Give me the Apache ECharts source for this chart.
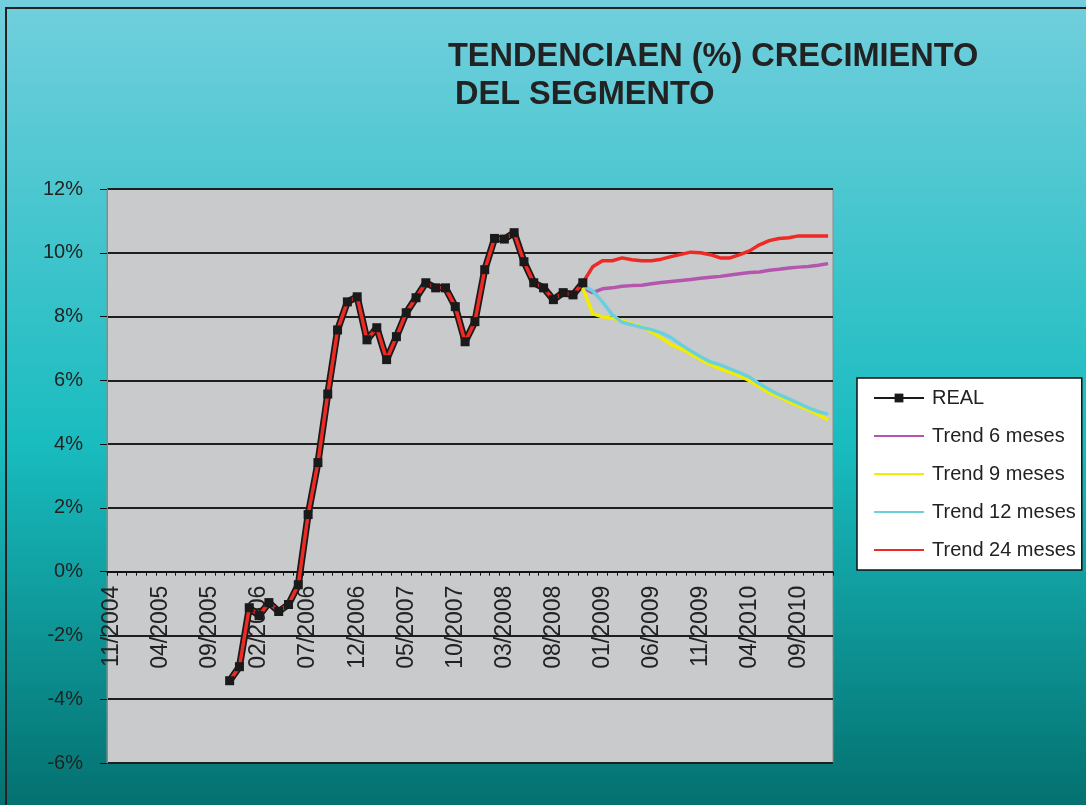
<!DOCTYPE html>
<html>
<head>
    <meta charset="utf-8">
    <title>Tendencia crecimiento del segmento</title>
    <script src="https://cdn.jsdelivr.net/npm/echarts@6/dist/echarts.min.js"></script>
    <style>
        html, body { margin: 0; padding: 0; }
        #main { width: 1086px; height: 805px; }
    </style>
</head>
<body>
<div id="main"></div>
<script>
    // meses: 11/2004 .. 12/2010
    var firstYear = 2004, firstMonth = 11, monthCount = 74;
    var months = [];
    for (var k = 0; k < monthCount; k++) {
        var m = (firstMonth - 1 + k) % 12 + 1;
        var y = firstYear + Math.floor((firstMonth - 1 + k) / 12);
        months.push((m < 10 ? '0' : '') + m + '/' + y);
    }

    // REAL, desde 11/2005 (indice 12)
    var realStart = 12;
    var realValues = [-3.42, -2.98, -1.13, -1.38, -0.97, -1.25, -1.03, -0.41, 1.79, 3.42,
        5.57, 7.58, 8.46, 8.62, 7.27, 7.65, 6.65, 7.37, 8.12, 8.59,
        9.06, 8.9, 8.9, 8.31, 7.21, 7.84, 9.47, 10.45, 10.43, 10.63,
        9.72, 9.06, 8.9, 8.53, 8.75, 8.68, 9.06];

    // tendencias, desde 11/2008 (indice 48)
    var trendStart = 48;
    var trend6 = [8.9, 8.75, 8.87, 8.9, 8.95, 8.97, 8.98, 9.03, 9.07, 9.1, 9.13, 9.16, 9.2,
        9.23, 9.26, 9.3, 9.34, 9.38, 9.4, 9.45, 9.48, 9.52, 9.55, 9.57, 9.61, 9.66];
    var trend9 = [8.9, 8.09, 7.99, 7.95, 7.87, 7.77, 7.68, 7.52, 7.33, 7.12, 6.99, 6.83, 6.65,
        6.49, 6.36, 6.25, 6.14, 5.99, 5.8, 5.61, 5.49, 5.33, 5.2, 5.08, 4.92, 4.76];
    var trend12 = [8.97, 8.81, 8.46, 8.06, 7.82, 7.74, 7.66, 7.59, 7.49, 7.34, 7.12, 6.93, 6.74,
        6.58, 6.49, 6.36, 6.24, 6.1, 5.89, 5.71, 5.55, 5.42, 5.28, 5.14, 5.02, 4.94];
    // trend 24 incluye el historico REAL y sigue desde 12/2008
    var trend24 = [9.56, 9.75, 9.75, 9.84, 9.78, 9.75, 9.75, 9.8, 9.88, 9.95, 10.02, 10.0,
        9.94, 9.84, 9.84, 9.94, 10.06, 10.25, 10.38, 10.45, 10.47, 10.53, 10.53, 10.53, 10.53];

    var yMin = -6, yMax = 12;

    function pad(start, values) {
        var out = [];
        for (var i = 0; i < monthCount; i++) {
            var j = i - start;
            out.push(j >= 0 && j < values.length ? values[j] : null);
        }
        return out;
    }

    var font = "'Liberation Sans', Arial, sans-serif";
    var gridTop = 189, gridBottom = 42, chartH = 805;
    // el eje X cruza en 0%: se sube con offset
    var plotH = chartH - gridTop - gridBottom;
    var zeroOffset = plotH * (0 - yMin) / (yMax - yMin);

    var chart = echarts.init(document.getElementById('main'));

    var option = {
        animation: false,
        backgroundColor: new echarts.graphic.LinearGradient(0, 0, 0, 1, [
            {offset: 0, color: '#72cfdd'},
            {offset: 0.55, color: '#19bcbf'},
            {offset: 1, color: '#047170'}
        ]),
        graphic: [{
            type: 'rect',
            shape: {x: 6, y: 8, width: 1100, height: 820},
            style: {fill: 'none', stroke: '#222', lineWidth: 2},
            silent: true
        }],
        title: [{
            text: 'TENDENCIAEN (%) CRECIMIENTO',
            left: 443, top: 36,
            textStyle: {fontFamily: font, fontSize: 32.5, fontWeight: 'bold', color: '#222'}
        }, {
            text: 'DEL SEGMENTO',
            left: 450, top: 74,
            textStyle: {fontFamily: font, fontSize: 32.5, fontWeight: 'bold', color: '#222'}
        }],
        legend: {
            orient: 'vertical',
            left: 857, top: 378,
            padding: [10, 6, 10, 16],
            itemWidth: 50, itemHeight: 11, itemGap: 18,
            backgroundColor: '#fff',
            borderColor: '#111', borderWidth: 1.5, borderRadius: 0,
            textStyle: {fontFamily: font, fontSize: 20, color: '#222', padding: [0, 0, 0, 3]},
            lineStyle: {width: 2},
            data: [
                {name: 'REAL'},
                {name: 'Trend 6 meses', itemStyle: {opacity: 0}},
                {name: 'Trend 9 meses', itemStyle: {opacity: 0}},
                {name: 'Trend 12 meses', itemStyle: {opacity: 0}},
                {name: 'Trend 24 meses', itemStyle: {opacity: 0}}
            ]
        },
        grid: {
            left: 107, right: 253, top: gridTop, bottom: gridBottom,
            outerBoundsMode: 'none',
            show: true, backgroundColor: '#c9cacc', borderColor: '#8c8c8c', borderWidth: 1
        },
        xAxis: {
            type: 'category',
            data: months,
            boundaryGap: true,
            offset: -zeroOffset,
            axisLine: {onZero: false, lineStyle: {color: '#111', width: 1.5}},
            axisTick: {show: true, interval: 0, length: 4, lineStyle: {color: '#111'}},
            axisLabel: {
                interval: 4, rotate: 90, margin: 14,
                fontFamily: font, fontSize: 23, color: '#222'
            },
            splitLine: {show: false}
        },
        yAxis: {
            type: 'value',
            min: yMin, max: yMax, interval: 2,
            axisLine: {show: true, lineStyle: {color: '#888', width: 1}},
            axisTick: {show: true, length: 7, lineStyle: {color: '#111'}},
            axisLabel: {
                formatter: '{value}%', margin: 24,
                fontFamily: font, fontSize: 20, color: '#222'
            },
            splitLine: {lineStyle: {color: '#1e1e1e', width: 2}}
        },
        series: [{
            name: 'REAL', type: 'line',
            data: pad(realStart, realValues),
            symbol: 'rect', symbolSize: 9, showSymbol: true, showAllSymbol: true,
            itemStyle: {color: '#1a1a1a'},
            lineStyle: {color: '#1a1a1a', width: 7}
        }, {
            name: 'Trend 6 meses', type: 'line',
            data: pad(trendStart, trend6), symbol: 'none',
            itemStyle: {color: '#b456ae'},
            lineStyle: {color: '#b456ae', width: 3.5}
        }, {
            name: 'Trend 9 meses', type: 'line',
            data: pad(trendStart, trend9), symbol: 'none',
            itemStyle: {color: '#f2ec00'},
            lineStyle: {color: '#f2ec00', width: 3.5}
        }, {
            name: 'Trend 12 meses', type: 'line',
            data: pad(trendStart, trend12), symbol: 'none',
            itemStyle: {color: '#6ad0df'},
            lineStyle: {color: '#6ad0df', width: 3.5}
        }, {
            name: 'Trend 24 meses', type: 'line',
            data: pad(realStart, realValues.concat(trend24)), symbol: 'none',
            itemStyle: {color: '#ee2a24'},
            lineStyle: {color: '#ee2a24', width: 3.5}
        }]
    };
    chart.setOption(option);
</script>
</body>
</html>
